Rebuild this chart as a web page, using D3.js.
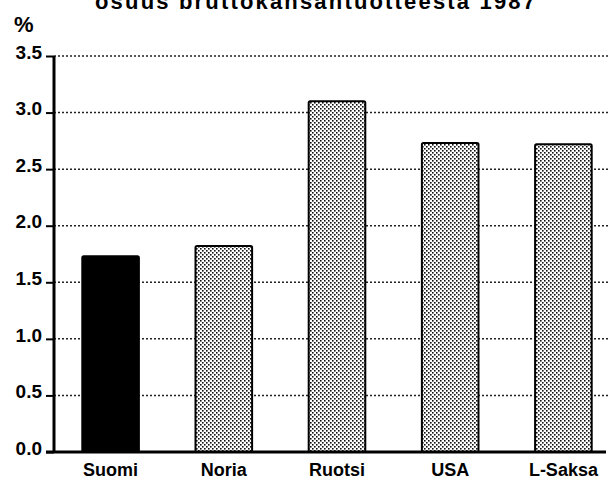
<!DOCTYPE html>
<html><head><meta charset="utf-8">
<script src="https://cdn.jsdelivr.net/npm/d3@7"></script>
<style>body{margin:0;background:#fff}svg{display:block}</style>
</head><body>
<svg id="c" width="609" height="481"></svg>
<script>
const categories = ["Suomi", "Noria", "Ruotsi", "USA", "L-Saksa"];
const values = [1.73, 1.82, 3.10, 2.73, 2.72];
const highlighted = ["Suomi"];
const yTicks = [0, 0.5, 1.0, 1.5, 2.0, 2.5, 3.0, 3.5];
const title = "osuus bruttokansantuotteesta 1987";
const unit = "%";

const svg = d3.select("#c");
const font = "'Liberation Sans', Arial, sans-serif";
const x0 = 54, y0 = 452, yTop = 56, xEnd = 620;

const defs = svg.append("defs");
const pat = defs.append("pattern").attr("id","dots").attr("patternUnits","userSpaceOnUse")
  .attr("width",4).attr("height",4);
pat.append("rect").attr("width",4).attr("height",4).attr("fill","#fff");
pat.append("rect").attr("x",0).attr("y",0).attr("width",1.6).attr("height",1.6).attr("fill","#111");
pat.append("rect").attr("x",2).attr("y",2).attr("width",1.6).attr("height",1.6).attr("fill","#111");

const x = d3.scaleBand().domain(categories).range([x0, xEnd]).paddingInner(0.5).paddingOuter(0.25);
const y = d3.scaleLinear().domain([0, 3.5]).range([y0, yTop]);

// title (cut off at top, as in the reference)
svg.append("text").attr("x", 315).attr("y", 9).attr("text-anchor","middle")
  .attr("font-family", font).attr("font-weight","bold").attr("font-size",22)
  .attr("textLength", 440).text(title);

svg.append("text").attr("x", 14).attr("y", 32).attr("font-family", font)
  .attr("font-weight","bold").attr("font-size",22).text(unit);

// grid
svg.append("g").selectAll("line").data(yTicks.filter(d=>d>0)).join("line")
  .attr("x1", x0).attr("x2", 609).attr("y1", d=>y(d)).attr("y2", d=>y(d))
  .attr("stroke","#222").attr("stroke-width",1.5).attr("stroke-dasharray","2,2");

// bars
svg.append("g").selectAll("rect").data(categories).join("rect")
  .attr("x", d=>x(d)).attr("width", x.bandwidth())
  .attr("y", (d,i)=>y(values[i])).attr("height", (d,i)=>y0 - y(values[i]))
  .attr("rx", 1.5)
  .attr("fill", d=> highlighted.includes(d) ? "#000" : "url(#dots)")
  .attr("stroke","#000").attr("stroke-width",2);

// y axis
const yAxis = d3.axisLeft(y).tickValues(yTicks).tickFormat(d3.format(".1f")).tickSize(8).tickPadding(4);
const ga = svg.append("g").attr("transform", `translate(${x0},0)`).call(yAxis);
ga.select(".domain").attr("stroke","#000").attr("stroke-width",3).attr("d", `M0,${yTop}V${y0}`);
ga.selectAll(".tick line").attr("stroke","#000").attr("stroke-width",2);
ga.selectAll(".tick text").attr("font-family", font).attr("font-weight","bold")
  .attr("font-size",19).attr("fill","#000").attr("dy","0.12em");

// baseline
svg.append("line").attr("x1", x0-8).attr("x2", 606).attr("y1", y0).attr("y2", y0)
  .attr("stroke","#000").attr("stroke-width",3);

// x axis labels
const xAxis = d3.axisBottom(x).tickSize(0).tickPadding(0);
const gx = svg.append("g").attr("transform", `translate(0,${y0})`).call(xAxis);
gx.select(".domain").remove();
gx.selectAll(".tick text").attr("font-family", font).attr("font-weight","bold")
  .attr("font-size",18).attr("fill","#000").attr("y", 24).attr("dy", 0);
</script>
</body></html>
